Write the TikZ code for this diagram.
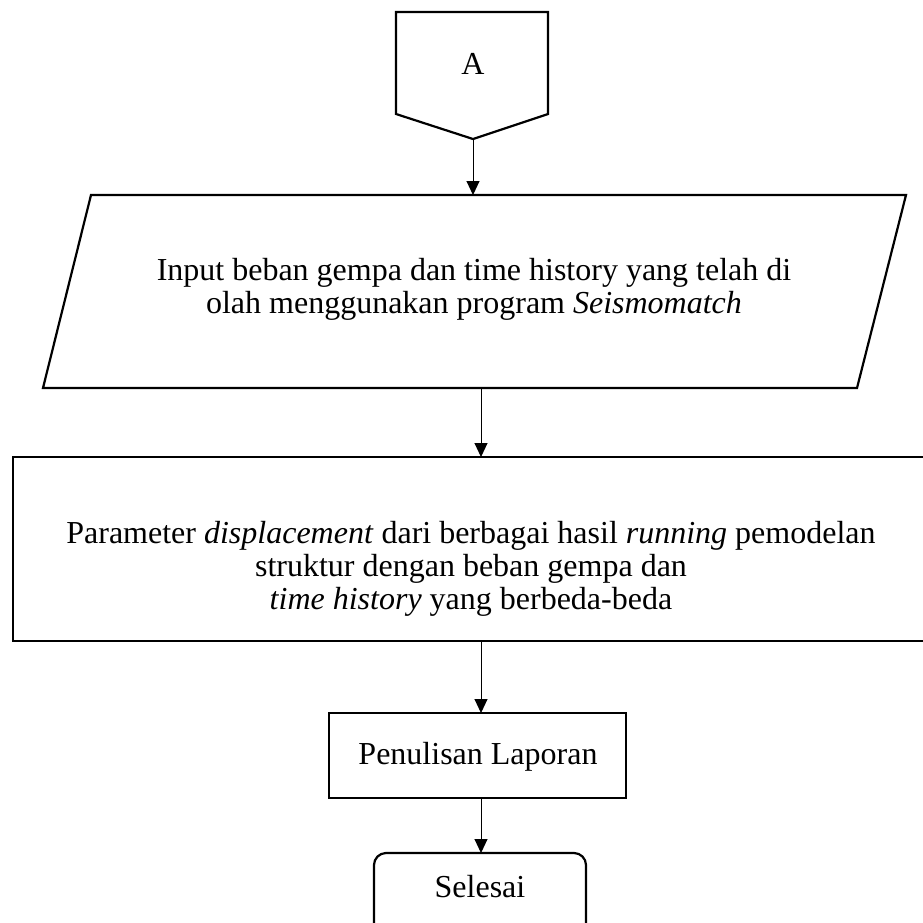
\documentclass[tikz,border=0pt]{standalone}
\usepackage{fontspec}
\setmainfont{Liberation Serif}
\usetikzlibrary{arrows.meta}
\newcommand\flowfont{\fontsize{32}{33}\selectfont\lineskiplimit=-20pt\relax}
\begin{document}
\begin{tikzpicture}[x=1pt,y=-1pt,
  shapeline/.style={line width=2.2pt, line join=miter},
  boxnode/.style={draw, shapeline, inner sep=0pt, outer sep=0pt},
  flow/.style={line width=1pt, -{Triangle[width=13pt,length=14pt]}},
  txt/.style={font=\flowfont, align=center, inner sep=0pt}]
\useasboundingbox (0,0) rectangle (923,922);
\clip (0,0) rectangle (923,922);
% off-page connector
\draw[shapeline] (396,12) -- (548,12) -- (548,114) -- (473,139) -- (396,114) -- cycle;
\coordinate (penTip) at (473,139);
\node[txt] (a) at (473,64) {A};
% parallelogram
\draw[shapeline] (91,195) -- (906,195) -- (857,388) -- (43,388) -- cycle;
\coordinate (parTop) at (473,195);
\coordinate (parBot) at (481,388);
\node[txt] (inp) at (474,289) {Input beban gempa dan time history yang telah di\\ olah menggunakan program \textit{Seismomatch}};
% process rectangle
\node[boxnode, minimum width=911pt, minimum height=184pt] (param) at (468.5,549) {};
\node[txt] (prm) at (471,569) {Parameter \textit{displacement} dari berbagai hasil \textit{running} pemodelan\\ struktur dengan beban gempa dan\\ \textit{time history} yang berbeda-beda};
% report
\node[boxnode, minimum width=297pt, minimum height=85pt] (lap) at (477.5,755.5) {};
\node[txt] (laptxt) at (478,757) {Penulisan Laporan};
% end
\node[boxnode, rounded corners=12pt, minimum width=212pt, minimum height=82pt] (fin) at (480,894) {};
\node[txt] (fintxt) at (480,887) {Selesai};
% connectors
\draw[flow] (penTip) -- (parTop);
\draw[flow] (parBot) -- (param.north -| parBot);
\draw[flow] (param.south -| parBot) -- (lap.north -| parBot);
\draw[flow] (lap.south -| parBot) -- (fin.north -| parBot);
\end{tikzpicture}
\end{document}
